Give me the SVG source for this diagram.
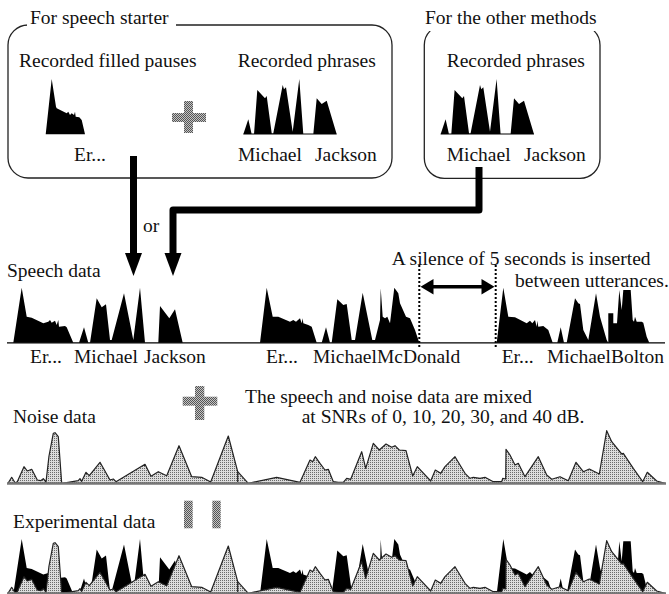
<svg xmlns="http://www.w3.org/2000/svg" xmlns:xlink="http://www.w3.org/1999/xlink" width="669" height="594" viewBox="0 0 669 594">
<style>
  text { font-family: "Liberation Serif", "Times New Roman", serif; font-size: 19.5px; fill: #111; }
  .box { fill: none; stroke: #222; stroke-width: 1.3; }
  .wave { fill: #000; }
  .noise { fill: url(#dot); stroke: #222; stroke-width: 1.2; stroke-linejoin: round; }
  .conn { fill: none; stroke: #000; stroke-width: 7; stroke-linejoin: round; }
  .gray { fill: url(#chk); }
</style>
<defs>
  <pattern id="dot" width="2" height="2" patternUnits="userSpaceOnUse">
    <rect width="2" height="2" fill="#dcdcdc"/>
    <rect width="1" height="1" fill="#6a6a6a"/>
  </pattern>
  <pattern id="chk" width="2" height="2" patternUnits="userSpaceOnUse">
    <rect width="2" height="2" fill="#c4c4c4"/>
    <rect width="1" height="1" fill="#555"/>
    <rect x="1" y="1" width="1" height="1" fill="#555"/>
  </pattern>
  <path id="phrase" class="wave" d="M243.3,134.3 L248.3,119.3 L251.7,134.3 Z M254,134.3 L257.3,90 L265,98.3 L266.7,96 L271.7,133.3 L273.3,133.3 L282.7,85 L284,89.3 L286,87.3 L292.7,131.7 L299.3,79 L303.3,134.3 Z M313.3,134.3 L316.7,98.3 L321.7,104 L326.7,100.7 L336.7,134.3 Z M243.3,133.6 H336.7 V134.6 H243.3 Z"/>
  <path id="speech" class="wave" d="M13.3,342.7 L21.7,287.7 L26.7,316.7 L31.7,317.7 L43.3,323.3 L48.3,321.7 L50,320 L51.7,322.7 L55,320.7 L56.7,325 L58.3,320 L59,326.7 L65,326 L66.7,327.3 L73.3,342.7 Z
    M79,342.7 L84,327.3 L88.3,342.7 Z
    M90,342.7 L96.7,298.3 L101.7,307.3 L106,304.3 L110,340 L111.7,340 L124,293.3 L133.3,340 L140,287.7 L145,342.7 Z
    M158.3,342.7 L160,306 L169.3,318.3 L175,309.3 L182.7,342.7 Z
    M260,342.7 L266.7,287.7 L272.7,316.7 L278.3,316.7 L290,321.7 L293.3,320 L296,321.7 L300,318.3 L301.7,323.3 L302.7,318.3 L303.3,323.3 L308.3,325 L311.7,326.7 L316.7,342.7 Z
    M321.7,342.7 L326,327.3 L330,342.7 Z
    M331.7,342.7 L337.3,299.3 L343.3,305 L346.7,304 L351.7,340 L355,340 L362.7,292.7 L372.3,340 L375,340 L380,320 L380.7,288.3 L382.7,316.7 L385,318.3 L387.3,316.7 L390,323.3 L394.3,287.7 L398.3,293.3 L400,303.3 L406,316.7 L410,318.3 L415,330 L419.3,342.7 Z
    M496.7,342.7 L503.3,287.7 L508.3,316.7 L515,317.3 L526.7,323.3 L530,320.7 L532.3,323.3 L535,320 L536.7,326.7 L537.3,320.7 L538.3,326.7 L543.3,326 L548.3,330 L552.7,342.7 Z
    M557.3,342.7 L560.7,327.3 L564,342.7 Z
    M566.7,342.7 L575,298.3 L578.3,303.3 L580,304 L583.3,330 L586.7,336.7 L588.3,340 L596,293.3 L600,316.7 L606.7,340 L608.3,342.7 Z
    M608.3,342.7 L608.3,313.3 L613.3,313.3 L613.3,323.3 L617,323.3 L619.3,290 L621.7,310 L623.3,290 L630.7,290 L632.7,320 L634,321.7 L635,316.7 L636.7,321.7 L641.7,321.7 L643.3,322.7 L646.7,336.7 L649.3,342.7 Z"/>
  <g id="noisewave">
    <path class="noise" d="M8,483.3 L11.7,477.3 L15,482.7 L17.3,481.7 L24,466.7 L27.3,471 L31.7,469.3 L37.3,480 L40.7,480.7 L43.3,478.7 L46,482 L49,456 L53.3,433.3 L55,432.7 L58.3,436.7 L61.7,483.3 L66.7,482.7 L78.3,480.7 L80,478.7 L81.7,481.3 L86,472.3 L89.3,475.7 L100,462.3 L110,480 L113.3,479 L116,481.7 L145,464.3 L151,476.3 L158.3,471.7 L166.7,475.7 L179,445.7 L191.7,476.7 L201.7,477.3 L210.7,482 L228.3,436 L237.7,471.7 L248.3,483.3 L276.7,477.3 L300,482.3 L310,460 L312.7,461.7 L315.3,456.7 L320,463.3 L325,470 L328.3,469.3 L333.3,481.7 L338.3,482.3 L343.3,482.3 L346.7,478.3 L350.7,479.3 L361.7,451.7 L365.7,468.3 L373.3,443.3 L379.3,450 L386,444 L391.7,447.3 L395,445.7 L399.3,450 L406,450.7 L412.7,476 L417.3,466.7 L430.7,481 L435.3,470 L440.7,473.3 L445,466.7 L455,456.7 L465,473.3 L470,478.3 L473.3,477.3 L480,478.3 L485,477.3 L493.3,481.7 L501.7,481.7 L502.7,478.3 L505.7,479 L506,449.3 L510,455 L515,465 L518.3,463.3 L525,476.7 L538.3,456.7 L546.7,475 L551.7,479.3 L560,476.7 L568.3,480.7 L576,462.3 L583.3,471.7 L589.3,469 L599.3,474 L606.7,430.7 L611.7,441.7 L621.7,454 L623.3,453.3 L633.3,468.3 L642.7,481.7 L647.3,472.3 L656.7,481 L665,483.3 Z"/>
    <line x1="237.7" y1="471.7" x2="237.7" y2="482" stroke="#222" stroke-width="1.2"/>
    <line x1="7" y1="483.5" x2="666" y2="483.5" stroke="#777" stroke-width="2.5"/>
  </g>
</defs>

<g id="speech-starter-box">
  <rect class="box" x="8" y="25" width="384" height="153" rx="20"/>
  <rect x="27" y="8" width="149" height="23" fill="#fff"/>
  <text x="30" y="24.3">For speech starter</text>
  <text x="19" y="66.7">Recorded filled pauses</text>
  <text x="237.7" y="66.7">Recorded phrases</text>
  <path class="wave" d="M45.7,134.3 L51.7,79 L56,106.7 L56.7,108.3 L61.7,110.7 L66.7,113.3 L68.3,111.7 L70,115 L71.7,113.3 L74,115 L75,111.7 L75.7,116.7 L79.3,117.3 L81.7,120 L85,134.3 Z"/>
  <use xlink:href="#phrase"/>
  <g class="gray"><rect x="172" y="113" width="34" height="9"/><rect x="184" y="101" width="9" height="32"/></g>
  <text x="74" y="161">Er...</text>
  <text x="238" y="161">Michael</text>
  <text x="315" y="161">Jackson</text>
</g>

<g id="other-methods-box">
  <rect class="box" x="424.3" y="25" width="175.7" height="153.3" rx="20"/>
  <rect x="419" y="6" width="186" height="25" fill="#fff"/>
  <text x="425" y="24.3">For the other methods</text>
  <text x="446.7" y="66.7">Recorded phrases</text>
  <use xlink:href="#phrase" transform="translate(197.3,0)"/>
  <text x="446.7" y="161">Michael</text>
  <text x="524" y="161">Jackson</text>
</g>

<g id="connectors">
  <path class="conn" d="M133.5,156 V254"/>
  <polygon points="125,253 142,253 133.5,276" fill="#000"/>
  <path class="conn" d="M479,167 V210 H173 V254"/>
  <polygon points="164.5,253 181.5,253 173,276" fill="#000"/>
  <text x="143" y="231.7">or</text>
</g>

<g id="speech-data">
  <text x="7" y="277.3">Speech data</text>
  <use xlink:href="#speech"/>
  <line x1="7" y1="342.9" x2="665" y2="342.9" stroke="#000" stroke-width="1.4"/>
  <text x="30" y="363.3">Er...</text>
  <text x="74" y="363.3">Michael</text>
  <text x="144" y="363.3">Jackson</text>
  <text x="266" y="363.3">Er...</text>
  <text x="313" y="363.3">MichaelMcDonald</text>
  <text x="501.7" y="363.3">Er...</text>
  <text x="547" y="363.3">MichaelBolton</text>
</g>

<g id="silence">
  <line x1="419.3" y1="265" x2="419.3" y2="347" stroke="#000" stroke-width="2" stroke-dasharray="2,2"/>
  <line x1="495.7" y1="265" x2="495.7" y2="347" stroke="#000" stroke-width="2" stroke-dasharray="2,2"/>
  <line x1="430" y1="286.7" x2="485" y2="286.7" stroke="#000" stroke-width="3.5"/>
  <polygon points="420.5,286.7 433.5,279 433.5,294.4" fill="#000"/>
  <polygon points="494.5,286.7 481.5,279 481.5,294.4" fill="#000"/>
  <text x="391.7" y="265">A silence of 5 seconds is inserted</text>
  <text x="515" y="286.7">between utterances.</text>
</g>

<g id="mix">
  <g class="gray"><rect x="182.7" y="396.7" width="34.6" height="9"/><rect x="195" y="386" width="9.3" height="34"/></g>
  <text x="245" y="402.5" font-size="19">The speech and noise data are mixed</text>
  <text x="301.7" y="423" font-size="19">at SNRs of 0, 10, 20, 30, and 40 dB.</text>
</g>

<g id="noise-data">
  <text x="13" y="423.3">Noise data</text>
  <use xlink:href="#noisewave"/>
</g>

<g id="experimental-data">
  <g class="gray"><rect x="184" y="500.7" width="8.7" height="27.6"/><rect x="212.3" y="500.7" width="8.4" height="27.6"/></g>
  <text x="13" y="528.3">Experimental data</text>
  <use xlink:href="#speech" transform="translate(0,251.3)"/>
  <use xlink:href="#noisewave" transform="translate(0,110)"/>
</g>
</svg>
